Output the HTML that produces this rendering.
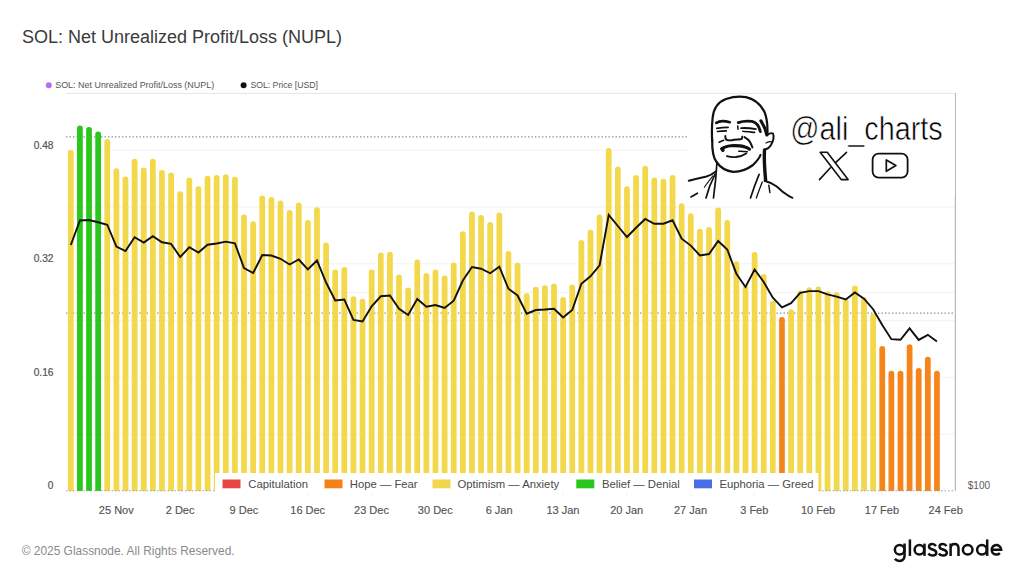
<!DOCTYPE html>
<html><head><meta charset="utf-8"><style>
html,body{margin:0;padding:0;background:#fff;}
body{width:1024px;height:576px;overflow:hidden;position:relative;font-family:"Liberation Sans",sans-serif;}
svg{position:absolute;left:0;top:0;}
</style></head><body>
<svg width="1024" height="576" viewBox="0 0 1024 576" font-family="Liberation Sans, sans-serif">
<text x="22" y="43.2" font-size="18" fill="#3a3a3a">SOL: Net Unrealized Profit/Loss (NUPL)</text>
<circle cx="48.8" cy="85.3" r="3" fill="#b86ef0"/>
<text x="55.2" y="88.4" font-size="8.95" fill="#555">SOL: Net Unrealized Profit/Loss (NUPL)</text>
<circle cx="243.6" cy="85.3" r="3" fill="#111"/>
<text x="250.4" y="88.4" font-size="8.7" fill="#555">SOL: Price [USD]</text>
<line x1="66" y1="93.4" x2="955" y2="93.4" stroke="#e6e6e6" stroke-width="1"/>
<line x1="66" y1="150.2" x2="955" y2="150.2" stroke="#f2f2f2" stroke-width="1"/><line x1="66" y1="207" x2="955" y2="207" stroke="#f2f2f2" stroke-width="1"/><line x1="66" y1="263.8" x2="955" y2="263.8" stroke="#f2f2f2" stroke-width="1"/><line x1="66" y1="292.5" x2="955" y2="292.5" stroke="#f2f2f2" stroke-width="1"/><line x1="66" y1="320.6" x2="955" y2="320.6" stroke="#f2f2f2" stroke-width="1"/><line x1="66" y1="377.4" x2="955" y2="377.4" stroke="#f2f2f2" stroke-width="1"/><line x1="66" y1="434.2" x2="955" y2="434.2" stroke="#f2f2f2" stroke-width="1"/>
<line x1="66" y1="136.9" x2="955" y2="136.9" stroke="#8e8e8e" stroke-width="1.2" stroke-dasharray="1.4 2.1"/>
<line x1="66" y1="313.1" x2="955" y2="313.1" stroke="#8e8e8e" stroke-width="1.2" stroke-dasharray="1.4 2.1"/>
<path d="M67.92 491.0 V152.88 A2.875 2.875 0 0 1 73.67 152.88 V491.0Z" fill="#f4d84b"/><path d="M77.04 491.0 V128.38 A2.875 2.875 0 0 1 82.79 128.38 V491.0Z" fill="#29c61b"/><path d="M86.16 491.0 V129.88 A2.875 2.875 0 0 1 91.91 129.88 V491.0Z" fill="#29c61b"/><path d="M95.28 491.0 V134.38 A2.875 2.875 0 0 1 101.03 134.38 V491.0Z" fill="#29c61b"/><path d="M104.39 491.0 V141.88 A2.875 2.875 0 0 1 110.14 141.88 V491.0Z" fill="#f4d84b"/><path d="M113.51 491.0 V171.12 A2.875 2.875 0 0 1 119.26 171.12 V491.0Z" fill="#f4d84b"/><path d="M122.63 491.0 V179.38 A2.875 2.875 0 0 1 128.38 179.38 V491.0Z" fill="#f4d84b"/><path d="M131.75 491.0 V161.62 A2.875 2.875 0 0 1 137.50 161.62 V491.0Z" fill="#f4d84b"/><path d="M140.86 491.0 V170.38 A2.875 2.875 0 0 1 146.61 170.38 V491.0Z" fill="#f4d84b"/><path d="M149.98 491.0 V161.62 A2.875 2.875 0 0 1 155.73 161.62 V491.0Z" fill="#f4d84b"/><path d="M159.10 491.0 V172.88 A2.875 2.875 0 0 1 164.85 172.88 V491.0Z" fill="#f4d84b"/><path d="M168.22 491.0 V175.38 A2.875 2.875 0 0 1 173.97 175.38 V491.0Z" fill="#f4d84b"/><path d="M177.33 491.0 V194.12 A2.875 2.875 0 0 1 183.08 194.12 V491.0Z" fill="#f4d84b"/><path d="M186.45 491.0 V180.38 A2.875 2.875 0 0 1 192.20 180.38 V491.0Z" fill="#f4d84b"/><path d="M195.57 491.0 V189.12 A2.875 2.875 0 0 1 201.32 189.12 V491.0Z" fill="#f4d84b"/><path d="M204.69 491.0 V178.62 A2.875 2.875 0 0 1 210.44 178.62 V491.0Z" fill="#f4d84b"/><path d="M213.80 491.0 V177.88 A2.875 2.875 0 0 1 219.55 177.88 V491.0Z" fill="#f4d84b"/><path d="M222.92 491.0 V177.12 A2.875 2.875 0 0 1 228.67 177.12 V491.0Z" fill="#f4d84b"/><path d="M232.04 491.0 V179.62 A2.875 2.875 0 0 1 237.79 179.62 V491.0Z" fill="#f4d84b"/><path d="M241.16 491.0 V217.38 A2.875 2.875 0 0 1 246.91 217.38 V491.0Z" fill="#f4d84b"/><path d="M250.27 491.0 V224.12 A2.875 2.875 0 0 1 256.02 224.12 V491.0Z" fill="#f4d84b"/><path d="M259.39 491.0 V198.38 A2.875 2.875 0 0 1 265.14 198.38 V491.0Z" fill="#f4d84b"/><path d="M268.51 491.0 V199.88 A2.875 2.875 0 0 1 274.26 199.88 V491.0Z" fill="#f4d84b"/><path d="M277.63 491.0 V203.38 A2.875 2.875 0 0 1 283.38 203.38 V491.0Z" fill="#f4d84b"/><path d="M286.74 491.0 V212.88 A2.875 2.875 0 0 1 292.49 212.88 V491.0Z" fill="#f4d84b"/><path d="M295.86 491.0 V205.38 A2.875 2.875 0 0 1 301.61 205.38 V491.0Z" fill="#f4d84b"/><path d="M304.98 491.0 V222.88 A2.875 2.875 0 0 1 310.73 222.88 V491.0Z" fill="#f4d84b"/><path d="M314.09 491.0 V210.12 A2.875 2.875 0 0 1 319.84 210.12 V491.0Z" fill="#f4d84b"/><path d="M323.21 491.0 V245.38 A2.875 2.875 0 0 1 328.96 245.38 V491.0Z" fill="#f4d84b"/><path d="M332.33 491.0 V272.38 A2.875 2.875 0 0 1 338.08 272.38 V491.0Z" fill="#f4d84b"/><path d="M341.45 491.0 V269.88 A2.875 2.875 0 0 1 347.20 269.88 V491.0Z" fill="#f4d84b"/><path d="M350.56 491.0 V299.12 A2.875 2.875 0 0 1 356.31 299.12 V491.0Z" fill="#f4d84b"/><path d="M359.68 491.0 V301.62 A2.875 2.875 0 0 1 365.43 301.62 V491.0Z" fill="#f4d84b"/><path d="M368.80 491.0 V272.38 A2.875 2.875 0 0 1 374.55 272.38 V491.0Z" fill="#f4d84b"/><path d="M377.92 491.0 V255.38 A2.875 2.875 0 0 1 383.67 255.38 V491.0Z" fill="#f4d84b"/><path d="M387.03 491.0 V254.62 A2.875 2.875 0 0 1 392.78 254.62 V491.0Z" fill="#f4d84b"/><path d="M396.15 491.0 V277.38 A2.875 2.875 0 0 1 401.90 277.38 V491.0Z" fill="#f4d84b"/><path d="M405.27 491.0 V290.38 A2.875 2.875 0 0 1 411.02 290.38 V491.0Z" fill="#f4d84b"/><path d="M414.39 491.0 V262.38 A2.875 2.875 0 0 1 420.14 262.38 V491.0Z" fill="#f4d84b"/><path d="M423.50 491.0 V275.88 A2.875 2.875 0 0 1 429.25 275.88 V491.0Z" fill="#f4d84b"/><path d="M432.62 491.0 V272.38 A2.875 2.875 0 0 1 438.37 272.38 V491.0Z" fill="#f4d84b"/><path d="M441.74 491.0 V278.38 A2.875 2.875 0 0 1 447.49 278.38 V491.0Z" fill="#f4d84b"/><path d="M450.86 491.0 V265.38 A2.875 2.875 0 0 1 456.61 265.38 V491.0Z" fill="#f4d84b"/><path d="M459.97 491.0 V234.12 A2.875 2.875 0 0 1 465.72 234.12 V491.0Z" fill="#f4d84b"/><path d="M469.09 491.0 V214.38 A2.875 2.875 0 0 1 474.84 214.38 V491.0Z" fill="#f4d84b"/><path d="M478.21 491.0 V217.88 A2.875 2.875 0 0 1 483.96 217.88 V491.0Z" fill="#f4d84b"/><path d="M487.33 491.0 V224.88 A2.875 2.875 0 0 1 493.08 224.88 V491.0Z" fill="#f4d84b"/><path d="M496.44 491.0 V215.38 A2.875 2.875 0 0 1 502.19 215.38 V491.0Z" fill="#f4d84b"/><path d="M505.56 491.0 V253.88 A2.875 2.875 0 0 1 511.31 253.88 V491.0Z" fill="#f4d84b"/><path d="M514.68 491.0 V265.38 A2.875 2.875 0 0 1 520.43 265.38 V491.0Z" fill="#f4d84b"/><path d="M523.79 491.0 V296.12 A2.875 2.875 0 0 1 529.54 296.12 V491.0Z" fill="#f4d84b"/><path d="M532.91 491.0 V289.62 A2.875 2.875 0 0 1 538.66 289.62 V491.0Z" fill="#f4d84b"/><path d="M542.03 491.0 V288.12 A2.875 2.875 0 0 1 547.78 288.12 V491.0Z" fill="#f4d84b"/><path d="M551.15 491.0 V286.38 A2.875 2.875 0 0 1 556.90 286.38 V491.0Z" fill="#f4d84b"/><path d="M560.26 491.0 V299.88 A2.875 2.875 0 0 1 566.01 299.88 V491.0Z" fill="#f4d84b"/><path d="M569.38 491.0 V287.38 A2.875 2.875 0 0 1 575.13 287.38 V491.0Z" fill="#f4d84b"/><path d="M578.50 491.0 V242.88 A2.875 2.875 0 0 1 584.25 242.88 V491.0Z" fill="#f4d84b"/><path d="M587.62 491.0 V232.62 A2.875 2.875 0 0 1 593.37 232.62 V491.0Z" fill="#f4d84b"/><path d="M596.73 491.0 V217.38 A2.875 2.875 0 0 1 602.48 217.38 V491.0Z" fill="#f4d84b"/><path d="M605.85 491.0 V150.88 A2.875 2.875 0 0 1 611.60 150.88 V491.0Z" fill="#f4d84b"/><path d="M614.97 491.0 V169.38 A2.875 2.875 0 0 1 620.72 169.38 V491.0Z" fill="#f4d84b"/><path d="M624.09 491.0 V189.12 A2.875 2.875 0 0 1 629.84 189.12 V491.0Z" fill="#f4d84b"/><path d="M633.20 491.0 V177.88 A2.875 2.875 0 0 1 638.95 177.88 V491.0Z" fill="#f4d84b"/><path d="M642.32 491.0 V168.62 A2.875 2.875 0 0 1 648.07 168.62 V491.0Z" fill="#f4d84b"/><path d="M651.44 491.0 V180.38 A2.875 2.875 0 0 1 657.19 180.38 V491.0Z" fill="#f4d84b"/><path d="M660.56 491.0 V181.62 A2.875 2.875 0 0 1 666.31 181.62 V491.0Z" fill="#f4d84b"/><path d="M669.67 491.0 V177.88 A2.875 2.875 0 0 1 675.42 177.88 V491.0Z" fill="#f4d84b"/><path d="M678.79 491.0 V206.12 A2.875 2.875 0 0 1 684.54 206.12 V491.0Z" fill="#f4d84b"/><path d="M687.91 491.0 V216.12 A2.875 2.875 0 0 1 693.66 216.12 V491.0Z" fill="#f4d84b"/><path d="M697.03 491.0 V231.62 A2.875 2.875 0 0 1 702.78 231.62 V491.0Z" fill="#f4d84b"/><path d="M706.14 491.0 V229.88 A2.875 2.875 0 0 1 711.89 229.88 V491.0Z" fill="#f4d84b"/><path d="M715.26 491.0 V210.38 A2.875 2.875 0 0 1 721.01 210.38 V491.0Z" fill="#f4d84b"/><path d="M724.38 491.0 V222.88 A2.875 2.875 0 0 1 730.13 222.88 V491.0Z" fill="#f4d84b"/><path d="M733.50 491.0 V264.18 A2.875 2.875 0 0 1 739.25 264.18 V491.0Z" fill="#f4d84b"/><path d="M742.61 491.0 V288.38 A2.875 2.875 0 0 1 748.36 288.38 V491.0Z" fill="#f4d84b"/><path d="M751.73 491.0 V254.97 A2.875 2.875 0 0 1 757.48 254.97 V491.0Z" fill="#f4d84b"/><path d="M760.85 491.0 V276.88 A2.875 2.875 0 0 1 766.60 276.88 V491.0Z" fill="#f4d84b"/><path d="M769.96 491.0 V303.62 A2.875 2.875 0 0 1 775.71 303.62 V491.0Z" fill="#f4d84b"/><path d="M779.08 491.0 V319.88 A2.875 2.875 0 0 1 784.83 319.88 V491.0Z" fill="#f5851a"/><path d="M788.20 491.0 V312.18 A2.875 2.875 0 0 1 793.95 312.18 V491.0Z" fill="#f4d84b"/><path d="M797.32 491.0 V293.38 A2.875 2.875 0 0 1 803.07 293.38 V491.0Z" fill="#f4d84b"/><path d="M806.43 491.0 V290.07 A2.875 2.875 0 0 1 812.18 290.07 V491.0Z" fill="#f4d84b"/><path d="M815.55 491.0 V289.27 A2.875 2.875 0 0 1 821.30 289.27 V491.0Z" fill="#f4d84b"/><path d="M824.67 491.0 V294.18 A2.875 2.875 0 0 1 830.42 294.18 V491.0Z" fill="#f4d84b"/><path d="M833.79 491.0 V295.07 A2.875 2.875 0 0 1 839.54 295.07 V491.0Z" fill="#f4d84b"/><path d="M842.90 491.0 V301.57 A2.875 2.875 0 0 1 848.65 301.57 V491.0Z" fill="#f4d84b"/><path d="M852.02 491.0 V288.38 A2.875 2.875 0 0 1 857.77 288.38 V491.0Z" fill="#f4d84b"/><path d="M861.14 491.0 V300.18 A2.875 2.875 0 0 1 866.89 300.18 V491.0Z" fill="#f4d84b"/><path d="M870.26 491.0 V316.48 A2.875 2.875 0 0 1 876.01 316.48 V491.0Z" fill="#f4d84b"/><path d="M879.37 491.0 V348.77 A2.875 2.875 0 0 1 885.12 348.77 V491.0Z" fill="#f5851a"/><path d="M888.49 491.0 V373.57 A2.875 2.875 0 0 1 894.24 373.57 V491.0Z" fill="#f5851a"/><path d="M897.61 491.0 V373.57 A2.875 2.875 0 0 1 903.36 373.57 V491.0Z" fill="#f5851a"/><path d="M906.73 491.0 V347.18 A2.875 2.875 0 0 1 912.48 347.18 V491.0Z" fill="#f5851a"/><path d="M915.84 491.0 V370.77 A2.875 2.875 0 0 1 921.59 370.77 V491.0Z" fill="#f5851a"/><path d="M924.96 491.0 V359.68 A2.875 2.875 0 0 1 930.71 359.68 V491.0Z" fill="#f5851a"/><path d="M934.08 491.0 V373.57 A2.875 2.875 0 0 1 939.83 373.57 V491.0Z" fill="#f5851a"/>
<line x1="66" y1="490.8" x2="955" y2="490.8" stroke="#9aa3b8" stroke-width="1" stroke-dasharray="1.5 2"/>
<line x1="955.3" y1="93" x2="955.3" y2="491" stroke="#a8a8a8" stroke-width="1"/>
<polyline points="70.80,245 79.92,220.5 89.03,220 98.15,222.25 107.27,224.75 116.39,246.5 125.50,251 134.62,237.25 143.74,242.5 152.86,236.1 161.97,242.25 171.09,243.9 180.21,257 189.33,247.25 198.44,252.5 207.56,244.75 216.68,243.5 225.80,241.6 234.91,243.4 244.03,268 253.15,273 262.27,255 271.38,255.5 280.50,258.75 289.62,264.5 298.74,259.5 307.85,269.4 316.97,260.5 326.09,282.5 335.20,300.5 344.32,299.5 353.44,320 362.56,321.5 371.67,306.25 380.79,296.25 389.91,295.5 399.03,308.75 408.14,315 417.26,299 426.38,306.75 435.50,305 444.61,308 453.73,300.75 462.85,280.5 471.97,267 481.08,268.75 490.20,273.25 499.32,266.75 508.44,288.75 517.55,295.5 526.67,313.75 535.79,310 544.90,309.5 554.02,308.75 563.14,317.5 572.26,310 581.37,283.75 590.49,276.25 599.61,265.25 608.73,215 617.84,226 626.96,237 636.08,227.75 645.20,219 654.31,223.75 663.43,223.75 672.55,220.25 681.67,238.75 690.78,245.6 699.90,255.4 709.02,254 718.14,241 727.25,249.5 736.37,273.7 745.49,287 754.60,269.5 763.72,282 772.84,297.7 781.96,307.3 791.07,303.2 800.19,292.8 809.31,291.1 818.43,291.1 827.54,294.3 836.66,296.6 845.78,299.5 854.90,292.5 864.01,298.7 873.13,309.2 882.25,325 891.37,339.2 900.48,339.8 909.60,328.3 918.72,339.9 927.84,334.8 936.95,341.6" fill="none" stroke="#111" stroke-width="1.9" stroke-linejoin="miter"/>
<line x1="116.3" y1="492" x2="116.3" y2="497" stroke="#f3f3f3"/><line x1="180.1" y1="492" x2="180.1" y2="497" stroke="#f3f3f3"/><line x1="243.9" y1="492" x2="243.9" y2="497" stroke="#f3f3f3"/><line x1="307.7" y1="492" x2="307.7" y2="497" stroke="#f3f3f3"/><line x1="371.5" y1="492" x2="371.5" y2="497" stroke="#f3f3f3"/><line x1="435.3" y1="492" x2="435.3" y2="497" stroke="#f3f3f3"/><line x1="499.1" y1="492" x2="499.1" y2="497" stroke="#f3f3f3"/><line x1="562.9" y1="492" x2="562.9" y2="497" stroke="#f3f3f3"/><line x1="626.7" y1="492" x2="626.7" y2="497" stroke="#f3f3f3"/><line x1="690.5" y1="492" x2="690.5" y2="497" stroke="#f3f3f3"/><line x1="754.3" y1="492" x2="754.3" y2="497" stroke="#f3f3f3"/><line x1="818.1" y1="492" x2="818.1" y2="497" stroke="#f3f3f3"/><line x1="881.9" y1="492" x2="881.9" y2="497" stroke="#f3f3f3"/><line x1="945.7" y1="492" x2="945.7" y2="497" stroke="#f3f3f3"/>
<g font-size="11" fill="#555" stroke="#555" stroke-width="0.15"><text x="116.3" y="513.5" text-anchor="middle">25 Nov</text><text x="180.1" y="513.5" text-anchor="middle">2 Dec</text><text x="243.9" y="513.5" text-anchor="middle">9 Dec</text><text x="307.7" y="513.5" text-anchor="middle">16 Dec</text><text x="371.5" y="513.5" text-anchor="middle">23 Dec</text><text x="435.3" y="513.5" text-anchor="middle">30 Dec</text><text x="499.1" y="513.5" text-anchor="middle">6 Jan</text><text x="562.9" y="513.5" text-anchor="middle">13 Jan</text><text x="626.7" y="513.5" text-anchor="middle">20 Jan</text><text x="690.5" y="513.5" text-anchor="middle">27 Jan</text><text x="754.3" y="513.5" text-anchor="middle">3 Feb</text><text x="818.1" y="513.5" text-anchor="middle">10 Feb</text><text x="881.9" y="513.5" text-anchor="middle">17 Feb</text><text x="945.7" y="513.5" text-anchor="middle">24 Feb</text></g>
<g font-size="10.2" fill="#555" stroke="#555" stroke-width="0.2"><text x="53.5" y="148.8" text-anchor="end">0.48</text><text x="53.5" y="262.2" text-anchor="end">0.32</text><text x="53.5" y="375.7" text-anchor="end">0.16</text><text x="53.5" y="489.3" text-anchor="end">0</text></g>
<text x="967.8" y="489.2" font-size="10" fill="#5a5a5a">$100</text>
<rect x="215" y="473" width="603.4" height="19.5" fill="#fff"/>
<g font-size="11.3" fill="#4a4a4a">
<rect x="222.5" y="479.5" width="18" height="8.8" fill="#e84545"/>
<text x="248.3" y="488.1">Capitulation</text>
<rect x="324.5" y="479.5" width="18" height="8.8" fill="#f58219"/>
<text x="349.8" y="488.1">Hope — Fear</text>
<rect x="432.5" y="479.5" width="18" height="8.8" fill="#f2d74e"/>
<text x="457.5" y="488.1">Optimism — Anxiety</text>
<rect x="576.3" y="479.5" width="18" height="8.8" fill="#29c61b"/>
<text x="601.9" y="488.1">Belief — Denial</text>
<rect x="694" y="479.5" width="18" height="8.8" fill="#4a6ee8"/>
<text x="719.4" y="488.1">Euphoria — Greed</text>
</g>
<rect x="688" y="94" width="266.8" height="103.5" fill="#fff"/>
<g fill="none" stroke="#111" stroke-linecap="round" stroke-linejoin="round">
<path d="M712.2 141 C711.8 135 711.8 126 712.6 118 C713.5 108 718 102 726 99 C732 97 740 96 746 97.2 C754 99 761 105 764.5 112 C767 118 767.7 126 767.4 134" stroke-width="2.21"/>
<path d="M712.2 140 C712 150 713.5 158 716.5 162 C720 167 726 171 733 171.8 C741 172 749 168 753 165 C757 161 759.5 158 760.5 155" stroke-width="2.21"/>
<path d="M760.9 120.8 C763 124 765.5 128 766.8 135" stroke-width="3.12"/>
<path d="M767.1 134.9 C769 133.6 771.5 132.6 773 133.6 C774 136 773.2 141 771 145 C769.5 147.5 767 149 765.6 149.2" stroke-width="1.95"/>
<path d="M766 143 C768 142 770 141.5 771.5 141.8" stroke-width="1.30"/>
<path d="M764.5 150 C764 158 764.5 168 765.6 180" stroke-width="3.38"/>
<path d="M716.3 122.9 C719 121 724 120.6 729.8 122.2" stroke-width="2.60"/>
<path d="M738.3 122.6 C742 121.3 747 120.8 752 121.4 C756 122.2 759 126 760.3 131.5" stroke-width="2.86"/>
<path d="M716.8 128.4 C720 127.7 724 127.3 728.1 127.3" stroke-width="1.82"/>
<path d="M717.4 131.5 C720 131.1 724 130.9 726.4 130.9" stroke-width="1.56"/>
<path d="M741.1 128.1 C746 127.8 751 128.2 755.8 129.1" stroke-width="1.95"/>
<path d="M742.8 131.3 C746 131.7 750 132 754.6 132.4" stroke-width="1.56"/>
<path d="M737.7 126 L738 129.2" stroke-width="1.56"/>
<path d="M725.3 136 C725.2 138 725.6 139.4 727 140 C729 140.6 732 140.3 734 139.8 C737 139.2 740 139.8 741.8 138.8 C742.3 138 742.3 137.2 742.2 136.6" stroke-width="1.95"/>
<path d="M719.1 142.2 L723.6 140.3" stroke-width="1.69"/>
<path d="M744.5 137.1 C747 138.5 749 140 750 142 C751 144 752 146 752.4 147.6" stroke-width="1.95"/>
<path d="M721.8 149 C724 147 727 146 731 145.7 C736 145.5 741 145.6 745 147 C747 147.6 748.5 148.4 749.5 149.2" stroke-width="3.12"/>
<path d="M722 148.6 L723 150.3" stroke-width="3.38"/>
<path d="M738.7 151.3 C742 151.2 745 151.4 747.3 151.8" stroke-width="1.43"/>
<path d="M726.9 156.1 C730 157 733 157.2 736 157 C740 156.6 743.5 155.2 746.2 153.4" stroke-width="1.82"/>
<path d="M688.8 180.8 C695 179 701 177.6 706.5 176.4 C710 175.4 714 173 716.2 171.2" stroke-width="2.08"/>
<path d="M717 162 C716.5 168 716 174 715.8 178 C715 186 714 192 713.5 198" stroke-width="1.69"/>
<path d="M715 174.4 C711 182 708 190 706 198" stroke-width="1.69"/>
<path d="M712.9 175.8 C709.5 180 706.5 184 704.3 187.3" stroke-width="1.04"/>
<path d="M690.9 196.9 L697.4 193.2" stroke-width="1.69"/>
<path d="M759.1 174.4 C756 182 753 190 750.5 198" stroke-width="1.69"/>
<path d="M762.3 182 C760 188 758 193 756.4 198" stroke-width="1.30"/>
<path d="M764.5 180.8 C769 182 773 184 776.3 186.2 C779 188.2 781.5 191 783.8 192.6 C786.5 194.7 789.5 196.7 792.4 197.8" stroke-width="1.95"/>
<path d="M768.8 185.1 L769.9 192.6" stroke-width="1.43"/>
</g>

<text x="790.3" y="140.3" font-size="33.5" fill="#000" stroke="#fff" stroke-width="0.6" textLength="152.4" lengthAdjust="spacingAndGlyphs">@ali_charts</text>
<g fill="none" stroke="#111" stroke-width="1.6" stroke-linejoin="round" stroke-linecap="round">
<path d="M820.2 152.3 H827.2 L848.1 179.6 H841.2 Z"/>
<path d="M846.5 152.3 L835.6 162.6 M830.4 167.8 L819.5 179.6"/>
<rect x="872.6" y="153.6" width="35" height="24" rx="6" ry="6" stroke-width="1.8"/>
<path d="M886.3 160 V171.3 L895.9 165.6 Z" stroke-width="1.7"/>
</g>
<text x="21.7" y="555" font-size="11.93" fill="#8a8a8a">© 2025 Glassnode. All Rights Reserved.</text>
<g fill="none" stroke="#111" stroke-width="2.5">
<circle cx="899.65" cy="549.8" r="4.8"/>
<path d="M904.55 543.6 V555.6 C904.55 559.2 902.6 560.9 899.6 560.9 C897.6 560.9 896 560.2 894.9 558.9"/>
<path d="M909.9 539.4 V555.9"/>
<circle cx="919.4" cy="549.8" r="4.8"/>
<path d="M924.5 543.6 V555.9"/>
<path d="M935.9 546.2 C935.1 544.8 933.8 544.1 932.3 544.1 C930.2 544.1 929 545.1 929 546.7 C929 548.4 930.6 549 932.6 549.5 C934.8 550.1 936.3 550.9 936.3 552.8 C936.3 554.6 934.7 555.6 932.5 555.6 C930.7 555.6 929.2 554.8 928.4 553.5"/>
<path d="M946.4 546.2 C945.6 544.8 944.3 544.1 942.8 544.1 C940.7 544.1 939.5 545.1 939.5 546.7 C939.5 548.4 941.1 549 943.1 549.5 C945.3 550.1 946.8 550.9 946.8 552.8 C946.8 554.6 945.2 555.6 943 555.6 C941.2 555.6 939.7 554.8 938.9 553.5"/>
<path d="M950.6 543.6 V555.9 M950.6 548.8 C950.6 545.6 952.3 544.1 954.6 544.1 C957 544.1 958.5 545.6 958.5 548.8 V555.9"/>
<circle cx="967.7" cy="549.8" r="4.8"/>
<circle cx="981.9" cy="549.8" r="4.8"/>
<path d="M987.2 539.4 V555.9"/>
<path d="M991.6 549.7 H1001.2 A4.8 4.8 0 1 0 999.9 553.1"/>
</g>
</svg>
</body></html>
